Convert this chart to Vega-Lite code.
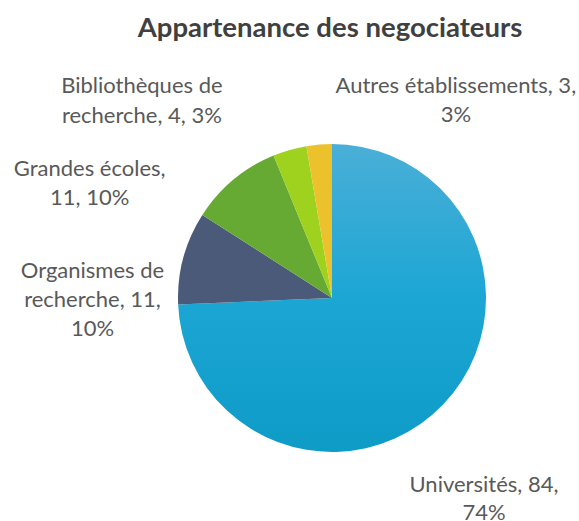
{
  "$schema": "https://vega.github.io/schema/vega-lite/v6.json",
  "width": 494,
  "height": 446,
  "padding": {"left": 85, "top": 75, "right": 0, "bottom": 0},
  "autosize": {"type": "none"},
  "background": "white",
  "title": {
    "text": "Appartenance des negociateurs",
    "font": "Lato",
    "fontSize": 27.5,
    "fontWeight": "bold",
    "color": "#404040",
    "anchor": "middle",
    "offset": 25,
    "dx": -2
  },
  "config": {"view": {"stroke": null}},
  "data": {
    "values": [
      {"cat": "Universités", "n": 84, "ord": 1, "label": "Universités, 84,\n74%"},
      {"cat": "Organismes de recherche", "n": 11, "ord": 2, "label": "Organismes de\nrecherche, 11,\n10%"},
      {"cat": "Grandes écoles", "n": 11, "ord": 3, "label": "Grandes écoles,\n11, 10%"},
      {"cat": "Bibliothèques de recherche", "n": 4, "ord": 4, "label": "Bibliothèques de\nrecherche, 4, 3%"},
      {"cat": "Autres établissements", "n": 3, "ord": 5, "label": "Autres établissements, 3,\n3%"}
    ]
  },
  "encoding": {
    "theta": {"field": "n", "type": "quantitative", "stack": true},
    "order": {"field": "ord", "type": "quantitative"}
  },
  "layer": [
    {
      "mark": {"type": "arc", "outerRadius": 154},
      "encoding": {
        "color": {
          "condition": {
            "test": "datum.ord == 1",
            "value": {"gradient": "linear", "x1": 0, "y1": 0, "x2": 0, "y2": 1, "stops": [{"offset": 0, "color": "#4aafd7"}, {"offset": 0.5, "color": "#1ca6d4"}, {"offset": 1, "color": "#0e9bc6"}]}
          },
          "field": "cat",
          "type": "nominal",
          "sort": null,
          "legend": null,
          "scale": {
            "domain": ["Universités", "Organismes de recherche", "Grandes écoles", "Bibliothèques de recherche", "Autres établissements"],
            "range": ["#1ca6d3", "#4b5a78", "#66aa33", "#9ed21e", "#ecc22c"]
          }
        }
      }
    },
    {
      "mark": {"type": "text", "radius": 230, "dx": -14, "dy": 34.5, "font": "Lato", "fontSize": 22, "color": "#595959", "lineBreak": "\n", "lineHeight": 28.5, "align": "center", "baseline": "alphabetic"},
      "encoding": {"text": {"condition": {"test": "datum.ord == 1", "field": "label"}, "value": ""}}
    },
    {
      "mark": {"type": "text", "radius": 230, "dx": -17.5, "dy": 40, "font": "Lato", "fontSize": 22, "color": "#595959", "lineBreak": "\n", "lineHeight": 29, "align": "center", "baseline": "alphabetic"},
      "encoding": {"text": {"condition": {"test": "datum.ord == 2", "field": "label"}, "value": ""}}
    },
    {
      "mark": {"type": "text", "radius": 230, "dx": -95, "dy": 55, "font": "Lato", "fontSize": 22, "color": "#595959", "lineBreak": "\n", "lineHeight": 29, "align": "center", "baseline": "alphabetic"},
      "encoding": {"text": {"condition": {"test": "datum.ord == 3", "field": "label"}, "value": ""}}
    },
    {
      "mark": {"type": "text", "radius": 230, "dx": -127, "dy": 16.6, "font": "Lato", "fontSize": 22, "color": "#595959", "lineBreak": "\n", "lineHeight": 29.5, "align": "center", "baseline": "alphabetic"},
      "encoding": {"text": {"condition": {"test": "datum.ord == 4", "field": "label"}, "value": ""}}
    },
    {
      "mark": {"type": "text", "radius": 230, "dx": 143, "dy": 24, "font": "Lato", "fontSize": 22, "color": "#595959", "lineBreak": "\n", "lineHeight": 29.5, "align": "center", "baseline": "alphabetic"},
      "encoding": {"text": {"condition": {"test": "datum.ord == 5", "field": "label"}, "value": ""}}
    }
  ]
}
